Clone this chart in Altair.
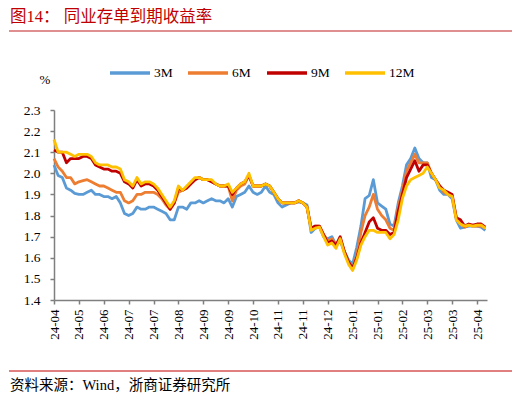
import altair as alt
import pandas as pd

# x-axis tick labels (one every 6 samples)
x_labels = ["24-04", "24-05", "24-06", "24-07", "24-07", "24-08", "24-09", "24-09", "24-10",
            "24-11", "24-11", "24-12", "25-01", "25-01", "25-02", "25-03", "25-03", "25-04"]
tick_step = 6

series_names = ["3M", "6M", "9M", "12M"]
series_colors = ["#5B9BD5", "#ED7D31", "#C00000", "#FFC000"]

y_3m = [2.04, 1.99, 1.98, 1.93, 1.92, 1.905, 1.90, 1.90, 1.91, 1.92,
        1.90, 1.90, 1.89, 1.89, 1.88, 1.89, 1.86, 1.81, 1.80, 1.81,
        1.84, 1.83, 1.83, 1.84, 1.84, 1.83, 1.82, 1.81, 1.78, 1.78,
        1.84, 1.84, 1.83, 1.86, 1.86, 1.87, 1.86, 1.87, 1.88, 1.87,
        1.87, 1.86, 1.88, 1.84, 1.89, 1.90, 1.91, 1.94, 1.91, 1.90,
        1.91, 1.94, 1.91, 1.90, 1.86, 1.84, 1.85, 1.86, 1.86, 1.865,
        1.86, 1.85, 1.72, 1.74, 1.745, 1.70, 1.69, 1.70, 1.66, 1.68,
        1.63, 1.59, 1.57, 1.65, 1.75, 1.88, 1.895, 1.97, 1.86, 1.845,
        1.83, 1.76, 1.75, 1.86, 1.94, 2.04, 2.07, 2.12, 2.07, 2.05,
        2.05, 1.98, 1.97, 1.92, 1.90, 1.90, 1.88, 1.78, 1.74, 1.745,
        1.75, 1.75, 1.75, 1.745, 1.73]

y_6m = [2.07, 2.03, 2.01, 1.98, 1.98, 1.95, 1.96, 1.965, 1.97, 1.96,
        1.95, 1.94, 1.94, 1.93, 1.92, 1.91, 1.91, 1.87, 1.86, 1.87,
        1.90, 1.90, 1.91, 1.91, 1.91, 1.90, 1.88, 1.85, 1.83, 1.86,
        1.91, 1.92, 1.93, 1.95, 1.97, 1.98, 1.97, 1.97, 1.96, 1.95,
        1.94, 1.94, 1.94, 1.87, 1.92, 1.94, 1.95, 1.99, 1.94, 1.94,
        1.94, 1.95, 1.94, 1.91, 1.88, 1.86, 1.86, 1.86, 1.86, 1.87,
        1.86, 1.84, 1.74, 1.75, 1.75, 1.71, 1.68, 1.69, 1.66, 1.69,
        1.63, 1.58, 1.55, 1.61, 1.72, 1.80, 1.84, 1.90, 1.83, 1.80,
        1.78, 1.74, 1.73, 1.84, 1.92, 2.01, 2.05, 2.09, 2.05, 2.05,
        2.05, 2.00, 1.97, 1.94, 1.91, 1.90, 1.89, 1.79, 1.76, 1.745,
        1.755, 1.75, 1.75, 1.75, 1.74]

y_9m = [2.11, 2.10, 2.10, 2.05, 2.07, 2.07, 2.07, 2.08, 2.08, 2.07,
        2.04, 2.03, 2.02, 2.02, 2.01, 2.01, 2.00, 1.96, 1.95, 1.93,
        1.97, 1.94, 1.95, 1.95, 1.94, 1.92, 1.89, 1.86, 1.83, 1.86,
        1.93, 1.92, 1.93, 1.95, 1.97, 1.98, 1.97, 1.97, 1.96, 1.95,
        1.94, 1.94, 1.94, 1.90, 1.93, 1.95, 1.96, 1.99, 1.94, 1.94,
        1.94, 1.95, 1.94, 1.91, 1.88, 1.86, 1.86, 1.86, 1.86, 1.87,
        1.86, 1.84, 1.74, 1.75, 1.75, 1.71, 1.67, 1.68, 1.66, 1.70,
        1.63, 1.58, 1.55, 1.60, 1.67, 1.72, 1.77, 1.79, 1.74, 1.73,
        1.73, 1.71, 1.72, 1.82, 1.90, 1.98, 2.02, 2.06, 2.01, 2.04,
        2.04, 2.00, 1.97, 1.94, 1.92, 1.91, 1.90, 1.79, 1.78, 1.75,
        1.76, 1.755, 1.76, 1.76, 1.745]

y_12m = [2.16, 2.10, 2.10, 2.10, 2.09, 2.08, 2.09, 2.09, 2.09, 2.08,
         2.05, 2.04, 2.04, 2.04, 2.03, 2.03, 2.02, 1.97, 1.96, 1.94,
         1.98, 1.95, 1.96, 1.96, 1.95, 1.93, 1.90, 1.87, 1.84, 1.87,
         1.94, 1.92, 1.94, 1.96, 1.98, 1.98, 1.97, 1.97, 1.97, 1.95,
         1.94, 1.94, 1.95, 1.91, 1.93, 1.95, 1.96, 2.00, 1.94, 1.94,
         1.94, 1.95, 1.94, 1.91, 1.88, 1.86, 1.86, 1.86, 1.86, 1.87,
         1.86, 1.84, 1.73, 1.74, 1.745, 1.70, 1.66, 1.67, 1.645, 1.69,
         1.62, 1.57, 1.54, 1.59, 1.66, 1.70, 1.73, 1.73, 1.72, 1.72,
         1.72, 1.69, 1.71, 1.78, 1.88, 1.94, 1.97, 1.98, 1.99, 2.00,
         2.03, 2.00, 1.97, 1.93, 1.92, 1.90, 1.89, 1.78, 1.76, 1.75,
         1.755, 1.75, 1.755, 1.755, 1.74]

y_ticks = [1.4, 1.5, 1.6, 1.7, 1.8, 1.9, 2.0, 2.1, 2.2, 2.3]

SERIF = "Liberation Serif, Noto Sans CJK SC"
AXIS_GREY = "#7f7f7f"

# ---------------------------------------------------------
# DATA (long form, drawn 3M first so 12M ends on top)
# ---------------------------------------------------------
rows = []
for name, ys in zip(series_names, [y_3m, y_6m, y_9m, y_12m]):
    for i, v in enumerate(ys):
        rows.append({"idx": i, "series": name, "value": v})
df = pd.DataFrame(rows)

label_expr = "[" + ",".join(f"'{l}'" for l in x_labels) + "][round(datum.value / %d)]" % tick_step
tick_values = [i * tick_step for i in range(len(x_labels))]

lines = (
    alt.Chart(df)
    .mark_line(strokeWidth=2.8, strokeJoin="round")
    .encode(
        x=alt.X("idx:Q",
                scale=alt.Scale(domain=[0, 104.4], nice=False, zero=False),
                axis=alt.Axis(values=tick_values, labelExpr=label_expr, labelAngle=-90,
                              labelFont=SERIF, labelFontSize=13, labelColor="black",
                              labelPadding=5, tickSize=4, tickWidth=1.5, tickColor=AXIS_GREY,
                              domainColor=AXIS_GREY, domainWidth=1.5, grid=False, title=None)),
        y=alt.Y("value:Q",
                scale=alt.Scale(domain=[1.4, 2.3], nice=False, zero=False),
                axis=alt.Axis(values=y_ticks, format=".1f",
                              labelFont=SERIF, labelFontSize=13.5, labelColor="black",
                              labelPadding=10, tickSize=4, tickWidth=1.5, tickColor=AXIS_GREY,
                              domainColor=AXIS_GREY, domainWidth=1.5, grid=False, title=None)),
        color=alt.Color("series:N",
                        scale=alt.Scale(domain=series_names, range=series_colors),
                        legend=None),
    )
)

# ---------------------------------------------------------
# LEGEND (drawn by hand, one row above the plot)
# ---------------------------------------------------------
legend_layers = []
legend_x = [56, 134, 213, 291]
for name, color, lx in zip(series_names, series_colors, legend_x):
    key = alt.Chart(pd.DataFrame({"series": [name]})).mark_rule(
        color=color, strokeWidth=3.5
    ).encode(x=alt.value(lx), x2=alt.value(lx + 40), y=alt.value(-37))
    lab = alt.Chart(pd.DataFrame({"series": [name]})).mark_text(
        align="left", baseline="middle", font=SERIF, fontSize=13.5, color="black"
    ).encode(x=alt.value(lx + 44), y=alt.value(-37), text="series:N")
    legend_layers += [key, lab]

# ---------------------------------------------------------
# DECORATION: title, rules, unit, footer
# ---------------------------------------------------------
title = alt.Chart(pd.DataFrame({"t": ["图14：  同业存单到期收益率"]})).mark_text(
    align="left", baseline="middle", font=SERIF, fontSize=16.5, color="#C00000"
).encode(x=alt.value(-44), y=alt.value(-93), text="t:N")

top_rule = alt.Chart(pd.DataFrame({"a": [0]})).mark_rule(color="#D46A6A", strokeWidth=1.3).encode(
    x=alt.value(-45), x2=alt.value(459), y=alt.value(-79)
)

unit = alt.Chart(pd.DataFrame({"t": ["%"]})).mark_text(
    align="center", baseline="middle", font=SERIF, fontSize=13, color="black"
).encode(x=alt.value(-9), y=alt.value(-30), text="t:N")

bottom_rule = alt.Chart(pd.DataFrame({"a": [0]})).mark_rule(color="#C00000", strokeWidth=1).encode(
    x=alt.value(-45), x2=alt.value(459), y=alt.value(261)
)

footer = alt.Chart(pd.DataFrame({"t": ["资料来源：Wind，浙商证券研究所"]})).mark_text(
    align="left", baseline="middle", font=SERIF, fontSize=14.5, color="black"
).encode(x=alt.value(-44), y=alt.value(276), text="t:N")

chart = alt.layer(lines, *legend_layers, title, top_rule, unit, bottom_rule, footer).properties(
    width=433,
    height=190,
    padding={"left": 46, "top": 102, "right": 25, "bottom": 94},
    autosize=alt.AutoSizeParams(type="none"),
    background="white",
).configure_view(stroke=None)

chart.save("out.html", embed_options={"renderer": "svg", "actions": False})
